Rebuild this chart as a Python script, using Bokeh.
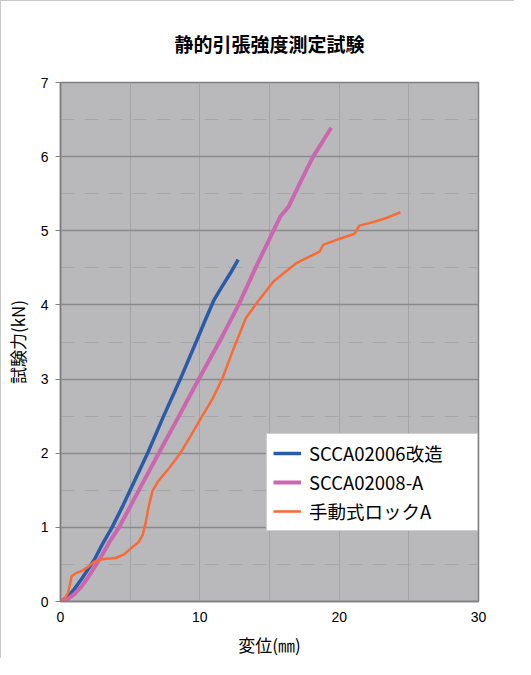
from bokeh.plotting import figure
from bokeh.models import FixedTicker, Legend, LegendItem, Range1d
from bokeh.embed import file_html
from bokeh.resources import INLINE

# --- data ---
blue_x = [0, 0.5, 1.0, 1.5, 2.0, 2.45, 3.0, 3.7, 4.5, 5.2, 6.25, 7.4, 8.6, 9.8, 10.4, 11.0, 11.6, 12.2, 12.75]
blue_y = [0, 0.06, 0.17, 0.3, 0.44, 0.57, 0.77, 1.0, 1.3, 1.58, 2.0, 2.5, 3.0, 3.53, 3.8, 4.06, 4.25, 4.43, 4.61]

mag_x = [0, 0.5, 1.0, 1.5, 2.0, 2.5, 3.0, 3.5, 4.2, 5.0, 5.85, 7.05, 8.5, 9.93, 11.48, 12.78, 14.0, 15.28, 15.8, 16.35, 17.2, 18.13, 18.8, 19.43]
mag_y = [0, 0.03, 0.1, 0.2, 0.33, 0.48, 0.63, 0.8, 1.0, 1.28, 1.58, 2.0, 2.5, 3.0, 3.53, 4.0, 4.5, 5.0, 5.2, 5.32, 5.65, 6.0, 6.2, 6.39]

org_x = [0, 0.3, 0.55, 0.7, 0.8, 1.1, 1.6, 2.0, 2.45, 3.0, 4.0, 4.6, 5.2, 5.6, 5.9, 6.1, 6.35, 6.6, 7.0, 7.8, 8.6, 9.4, 10.2, 10.9, 11.6, 12.4, 13.3, 14.1, 15.3, 16.9, 18.6, 18.85, 20.0, 21.1, 21.45, 22.5, 23.5, 24.4]
org_y = [0, 0.04, 0.12, 0.25, 0.34, 0.38, 0.42, 0.47, 0.54, 0.57, 0.59, 0.64, 0.74, 0.8, 0.9, 1.05, 1.3, 1.49, 1.62, 1.8, 2.0, 2.25, 2.51, 2.73, 3.0, 3.4, 3.82, 4.03, 4.32, 4.56, 4.72, 4.81, 4.89, 4.96, 5.07, 5.12, 5.18, 5.25]

series_names = ["SCCA02006改造", "SCCA02008-A", "手動式ロックA"]
x_ticks = [0, 10, 20, 30]
x_grid = [0, 5, 10, 15, 20, 25, 30]
y_ticks = [0, 1, 2, 3, 4, 5, 6, 7]

title_text = "静的引張強度測定試験"
x_label = "変位(㎜)"
y_label = "試験力(kN)"

p = figure(width=514, height=658, output_backend="svg", toolbar_location=None,
           x_range=Range1d(0, 30), y_range=Range1d(0, 7),
           min_border_left=55, min_border_right=37, min_border_top=80, min_border_bottom=50,
           title=title_text,
           styles={"border-left": "1px solid #c8c8c8", "border-top": "1px solid #c8c8c8"})

p.title.align = "center"
p.title.text_font = "Noto Sans CJK JP"
p.title.text_font_size = "19px"
p.title.text_font_style = "bold"
p.title.text_color = "#000000"
p.title.offset = -8
p.title.standoff = 52

p.background_fill_color = "#b9b9bb"
p.border_fill_color = "#ffffff"
p.outline_line_color = "#7f7f7f"
p.outline_line_width = 1.5

# axes
for ax in (p.xaxis[0], p.yaxis[0]):
    ax.axis_line_color = "#7f7f7f"
    ax.axis_line_width = 1.5
    ax.major_label_text_font = "Liberation Sans"
    ax.major_label_text_font_size = "14px"
    ax.major_label_text_color = "#000000"
    ax.minor_tick_line_color = None
    ax.axis_label_text_font = "Noto Sans CJK JP"
    ax.axis_label_text_font_size = "17px"
    ax.axis_label_text_font_style = "normal"
    ax.axis_label_text_color = "#000000"

p.xaxis.ticker = FixedTicker(ticks=x_ticks)
p.xaxis.major_tick_line_color = None
p.xaxis.major_label_standoff = 4
p.xaxis.axis_label = x_label
p.xaxis.axis_label_standoff = 7

p.yaxis.ticker = FixedTicker(ticks=y_ticks, minor_ticks=[v + 0.5 for v in y_ticks[:-1]])
p.yaxis.major_tick_line_color = "#7f7f7f"
p.yaxis.major_tick_out = 5
p.yaxis.major_tick_in = 0
p.yaxis.major_label_standoff = 7
p.yaxis.axis_label = y_label
p.yaxis.axis_label_standoff = 8

# grids
p.xgrid.ticker = FixedTicker(ticks=x_grid)
p.xgrid.grid_line_color = "#a4a4a6"
p.xgrid.grid_line_width = 1
p.ygrid.grid_line_color = "#8a8a8a"
p.ygrid.grid_line_width = 1.5
p.ygrid.minor_grid_line_color = "#a6a6a8"
p.ygrid.minor_grid_line_dash = "14 10"
p.ygrid.minor_grid_line_width = 1

r1 = p.line(blue_x, blue_y, line_color="#2b5aa8", line_width=3.5)
r2 = p.line(mag_x, mag_y, line_color="#cc66b0", line_width=4)
r3 = p.line(org_x, org_y, line_color="#f96a35", line_width=2.5)

legend = Legend(items=[LegendItem(label=series_names[0], renderers=[r1]),
                       LegendItem(label=series_names[1], renderers=[r2]),
                       LegendItem(label=series_names[2], renderers=[r3])],
                location=(206, 70))
legend.label_text_font = "Noto Sans CJK JP"
legend.label_text_font_size = "18.5px"
legend.label_text_color = "#000000"
legend.glyph_width = 28
legend.glyph_height = 20
legend.spacing = 3
legend.padding = 6
legend.margin = 0
legend.label_standoff = 8
legend.label_width = 162
legend.label_height = 20
legend.background_fill_color = "#ffffff"
legend.background_fill_alpha = 1
legend.border_line_color = "#a0a0a0"
legend.border_line_width = 1
p.add_layout(legend, "center")

open("out.html", "w").write(file_html(p, INLINE))
